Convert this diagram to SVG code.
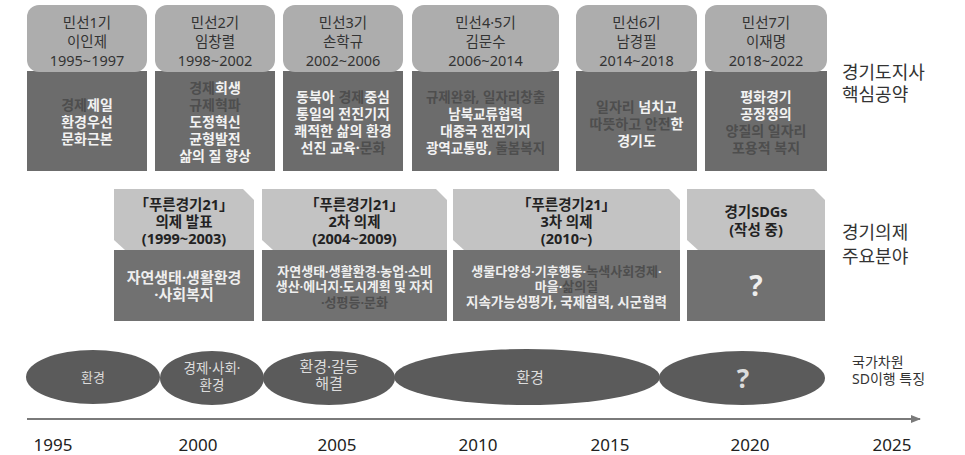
<svg xmlns="http://www.w3.org/2000/svg" width="965" height="455" viewBox="0 0 965 455">
<defs>
<style>
text{font-family:"Noto Sans","Noto Sans CJK KR",sans-serif;text-anchor:middle}
.th{fill:#adadad}
.tb{fill:#6c6c6c}
.mh{fill:#c3c3c3}
.mb{fill:#717171}
.ell{fill:#5b5b5b}
.ht{font-size:14.5px;fill:#333}
.bt{font-size:14px;font-weight:bold;fill:#f2f2f2}
.mt{font-size:14.5px;font-weight:bold;fill:#222}
.ms{font-size:13px;font-weight:bold;fill:#eeeeee}
.dk{fill:#4e4e4e}
.lab{font-size:18px;fill:#333;text-anchor:start}
.et{fill:#dcdcdc}
.yr{font-size:17px;fill:#222}
</style>
<marker id="arr" viewBox="0 0 10 10" refX="9" refY="5" markerWidth="5" markerHeight="5" orient="auto">
<path d="M0,1 L10,5 L0,9 z" fill="#7a7a7a"/>
</marker>
</defs>
<rect width="965" height="455" fill="#fff"/>

<!-- top row -->
<g id="t1">
<rect class="tb" x="27" y="71" width="120" height="100"/>
<rect class="th" x="27" y="5" width="120" height="67" rx="12"/>
<text class="ht" x="87" y="28">민선1기</text>
<text class="ht" x="87" y="47">이인제</text>
<text class="ht" x="87" y="66">1995~1997</text>
<text class="bt" x="87" y="110"><tspan class="dk">경제</tspan>제일</text>
<text class="bt" x="87" y="127">환경우선</text>
<text class="bt" x="87" y="144">문화근본</text>
</g>
<g id="t2">
<rect class="tb" x="155" y="71" width="120" height="100"/>
<rect class="th" x="155" y="5" width="120" height="67" rx="12"/>
<text class="ht" x="215" y="28">민선2기</text>
<text class="ht" x="215" y="47">임창렬</text>
<text class="ht" x="215" y="66">1998~2002</text>
<text class="bt" x="215" y="93"><tspan class="dk">경제</tspan>회생</text>
<text class="bt dk" x="215" y="110">규제혁파</text>
<text class="bt" x="215" y="127">도정혁신</text>
<text class="bt" x="215" y="144">균형발전</text>
<text class="bt" x="215" y="161">삶의 질 향상</text>
</g>
<g id="t3">
<rect class="tb" x="283" y="71" width="120" height="100"/>
<rect class="th" x="283" y="5" width="120" height="67" rx="12"/>
<text class="ht" x="343" y="28">민선3기</text>
<text class="ht" x="343" y="47">손학규</text>
<text class="ht" x="343" y="66">2002~2006</text>
<text class="bt" x="343" y="102">동북아 <tspan class="dk">경제</tspan>중심</text>
<text class="bt" x="343" y="119">통일의 전진기지</text>
<text class="bt" x="343" y="136">쾌적한 삶의 환경</text>
<text class="bt" x="343" y="153">선진 교육·<tspan class="dk">문화</tspan></text>
</g>
<g id="t4">
<rect class="tb" x="412" y="71" width="147" height="100"/>
<rect class="th" x="412" y="5" width="147" height="67" rx="12"/>
<text class="ht" x="485.5" y="28">민선4·5기</text>
<text class="ht" x="485.5" y="47">김문수</text>
<text class="ht" x="485.5" y="66">2006~2014</text>
<text class="bt dk" x="485.5" y="102" style="font-size:13.5px">규제완화, 일자리창출</text>
<text class="bt" x="485.5" y="119" style="font-size:13.5px">남북교류협력</text>
<text class="bt" x="485.5" y="136" style="font-size:13.5px">대중국 전진기지</text>
<text class="bt" x="485.5" y="153" style="font-size:13.5px">광역교통망, <tspan class="dk">돌봄복지</tspan></text>
</g>
<g id="t5">
<rect class="tb" x="576" y="71" width="121" height="100"/>
<rect class="th" x="576" y="5" width="121" height="67" rx="12"/>
<text class="ht" x="636.5" y="28">민선6기</text>
<text class="ht" x="636.5" y="47">남경필</text>
<text class="ht" x="636.5" y="66">2014~2018</text>
<text class="bt" x="636.5" y="112"><tspan class="dk">일자리</tspan> 넘치고</text>
<text class="bt" x="636.5" y="129"><tspan class="dk">따뜻하고 안전</tspan>한</text>
<text class="bt" x="636.5" y="146">경기도</text>
</g>
<g id="t6">
<rect class="tb" x="705" y="71" width="122" height="100"/>
<rect class="th" x="705" y="5" width="122" height="67" rx="12"/>
<text class="ht" x="766" y="28">민선7기</text>
<text class="ht" x="766" y="47">이재명</text>
<text class="ht" x="766" y="66">2018~2022</text>
<text class="bt" x="766" y="102">평화경기</text>
<text class="bt" x="766" y="119">공정정의</text>
<text class="bt dk" x="766" y="136">양질의 일자리</text>
<text class="bt dk" x="766" y="153">포용적 복지</text>
</g>
<g id="lab1">
<text class="lab" x="842" y="79">경기도지사</text>
<text class="lab" x="842" y="101">핵심공약</text>
</g>

<!-- middle row -->
<g id="m1">
<rect class="mb" x="114" y="250" width="140" height="71"/>
<polygon class="mh" points="114,189 243,189 254,200 254,250 125,250 114,240"/>
<text class="mt" x="184" y="210">「푸른경기21」</text>
<text class="mt" x="184" y="227">의제 발표</text>
<text class="mt" x="184" y="244">(1999~2003)</text>
<text class="ms" x="184" y="283" style="font-size:15px">자연생태·생활환경</text>
<text class="ms" x="184" y="300" style="font-size:15px">·사회복지</text>
</g>
<g id="m2">
<rect class="mb" x="262" y="250" width="185" height="71"/>
<polygon class="mh" points="262,189 436,189 447,200 447,250 273,250 262,240"/>
<text class="mt" x="354.5" y="210">「푸른경기21」</text>
<text class="mt" x="354.5" y="227">2차 의제</text>
<text class="mt" x="354.5" y="244">(2004~2009)</text>
<text class="ms" x="354.5" y="276">자연생태·생활환경·농업·소비</text>
<text class="ms" x="354.5" y="291">생산·에너지·도시계획 및 자치</text>
<text class="ms dk" x="354.5" y="307">·성평등·문화</text>
</g>
<g id="m3">
<rect class="mb" x="453" y="250" width="227" height="71"/>
<polygon class="mh" points="453,189 669,189 680,200 680,250 464,250 453,240"/>
<text class="mt" x="566.5" y="210">「푸른경기21」</text>
<text class="mt" x="566.5" y="227">3차 의제</text>
<text class="mt" x="566.5" y="244">(2010~)</text>
<text class="ms" x="566.5" y="276">생물다양성·기후행동·<tspan class="dk">녹색사회경제</tspan>·</text>
<text class="ms" x="566.5" y="291">마을·<tspan class="dk">삶의질</tspan></text>
<text class="ms" x="566.5" y="307" style="font-size:13.5px">지속가능성평가, 국제협력, 시군협력</text>
</g>
<g id="m4">
<rect class="mb" x="687" y="250" width="138" height="71"/>
<polygon class="mh" points="687,189 814,189 825,200 825,250 698,250 687,240"/>
<text class="mt" x="756" y="217">경기SDGs</text>
<text class="mt" x="756" y="235">(작성 중)</text>
<text x="756" y="296" style="font-size:28px;font-weight:bold;fill:#eeeeee">?</text>
</g>
<g id="lab2">
<text class="lab" x="842" y="239">경기의제</text>
<text class="lab" x="842" y="263">주요분야</text>
</g>

<!-- bottom ellipses -->
<g id="e1">
<ellipse class="ell" cx="93" cy="377" rx="67" ry="27"/>
<text class="et" x="93" y="382" style="font-size:13px">환경</text>
</g>
<g id="e2">
<ellipse class="ell" cx="212" cy="378" rx="52" ry="27"/>
<text class="et" x="212" y="373" style="font-size:13.5px">경제·사회·</text>
<text class="et" x="212" y="390" style="font-size:13.5px">환경</text>
</g>
<g id="e3">
<ellipse class="ell" cx="329" cy="378" rx="66" ry="27"/>
<text class="et" x="329" y="372" style="font-size:15px">환경·갈등</text>
<text class="et" x="329" y="389" style="font-size:15px">해결</text>
</g>
<g id="e4">
<ellipse class="ell" cx="527" cy="377" rx="133" ry="28"/>
<text class="et" x="530" y="383" style="font-size:15px">환경</text>
</g>
<g id="e5">
<ellipse class="ell" cx="742" cy="378" rx="83" ry="27"/>
<text x="743" y="388" style="font-size:26px;font-weight:bold;fill:#dcdcdc">?</text>
</g>
<g id="lab3">
<text class="lab" x="852" y="367" style="font-size:14px">국가차원</text>
<text class="lab" x="852" y="384" style="font-size:14px">SD이행 특징</text>
</g>

<!-- axis -->
<g id="connectors">
<line x1="27" y1="419" x2="920" y2="419" stroke="#7a7a7a" stroke-width="2" marker-end="url(#arr)"/>
</g>
<g id="years">
<text class="yr" x="53" y="451">1995</text>
<text class="yr" x="198" y="451">2000</text>
<text class="yr" x="337" y="451">2005</text>
<text class="yr" x="478" y="451">2010</text>
<text class="yr" x="610" y="451">2015</text>
<text class="yr" x="750" y="451">2020</text>
<text class="yr" x="892" y="451">2025</text>
</g>
</svg>
